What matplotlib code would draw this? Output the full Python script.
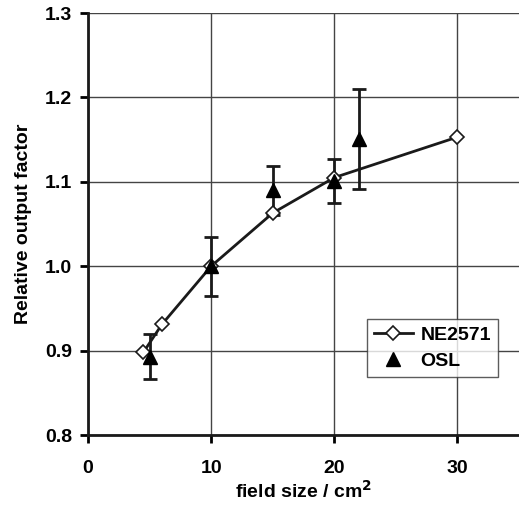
import matplotlib
matplotlib.use('Agg')
import matplotlib.pyplot as plt

plt.rcParams['font.family'] = ['Liberation Sans', 'DejaVu Sans']
plt.rcParams['font.weight'] = 'bold'

# NE2571 chamber
ne_field = [4.5, 6, 10, 15, 20, 30]
ne_value = [0.898, 0.931, 1.000, 1.063, 1.105, 1.153]

# OSL measurements
osl_field = [5, 10, 15, 20, 22]
osl_value = [0.893, 1.000, 1.090, 1.101, 1.151]
osl_err = [0.027, 0.035, 0.029, 0.026, 0.059]

xticks = [0, 10, 20, 30]
yticks = [0.8, 0.9, 1.0, 1.1, 1.2, 1.3]

fig = plt.figure(figsize=(5.19, 5.08), dpi=100)
ax = fig.add_axes([88/519, 1 - 435/508, (519 - 88)/519, (435 - 13)/508])

ax.errorbar(osl_field, osl_value, yerr=osl_err, fmt='none', ecolor='#1a1a1a',
            elinewidth=2, capsize=5, capthick=2, zorder=3)
ax.plot(ne_field, ne_value, '-D', color='#1a1a1a', lw=2, ms=7, mfc='white',
        mec='#1a1a1a', mew=1.2, label='NE2571', zorder=4)
ax.plot(osl_field, osl_value, '^', color='black', ms=10, ls='none',
        label='OSL', zorder=5)

ax.set_xlim(0, 35)
ax.set_ylim(0.8, 1.3)
ax.set_xticks(xticks)
ax.set_yticks(yticks)
ax.set_yticklabels(['%.1f' % v for v in yticks])
ax.tick_params(labelsize=14, width=2, length=6, direction='out')
ax.tick_params(axis='y', pad=5.5)
ax.tick_params(axis='x', pad=12)
ax.grid(True, color='#444444', lw=1)
for s in ['top', 'right']:
    ax.spines[s].set_visible(False)
for s in ['left', 'bottom']:
    ax.spines[s].set_linewidth(2)
    ax.spines[s].set_color('#1a1a1a')
ax.set_axisbelow(True)

ax.set_xlabel('field size / cm$^\\mathbf{2}$', fontsize=14, fontweight='bold', labelpad=2)
ax.set_ylabel('Relative output factor', fontsize=14, fontweight='bold', labelpad=9)

leg = ax.legend(loc='lower right', fontsize=14, frameon=True, fancybox=False,
                edgecolor='#333333', handlelength=2.0, handletextpad=0.4,
                borderpad=0.35, labelspacing=0.45, borderaxespad=0)
leg.get_frame().set_linewidth(1)
leg.set_bbox_to_anchor((498/519, 1 - 377/508), transform=fig.transFigure)

fig.savefig('out.png', dpi=100)
